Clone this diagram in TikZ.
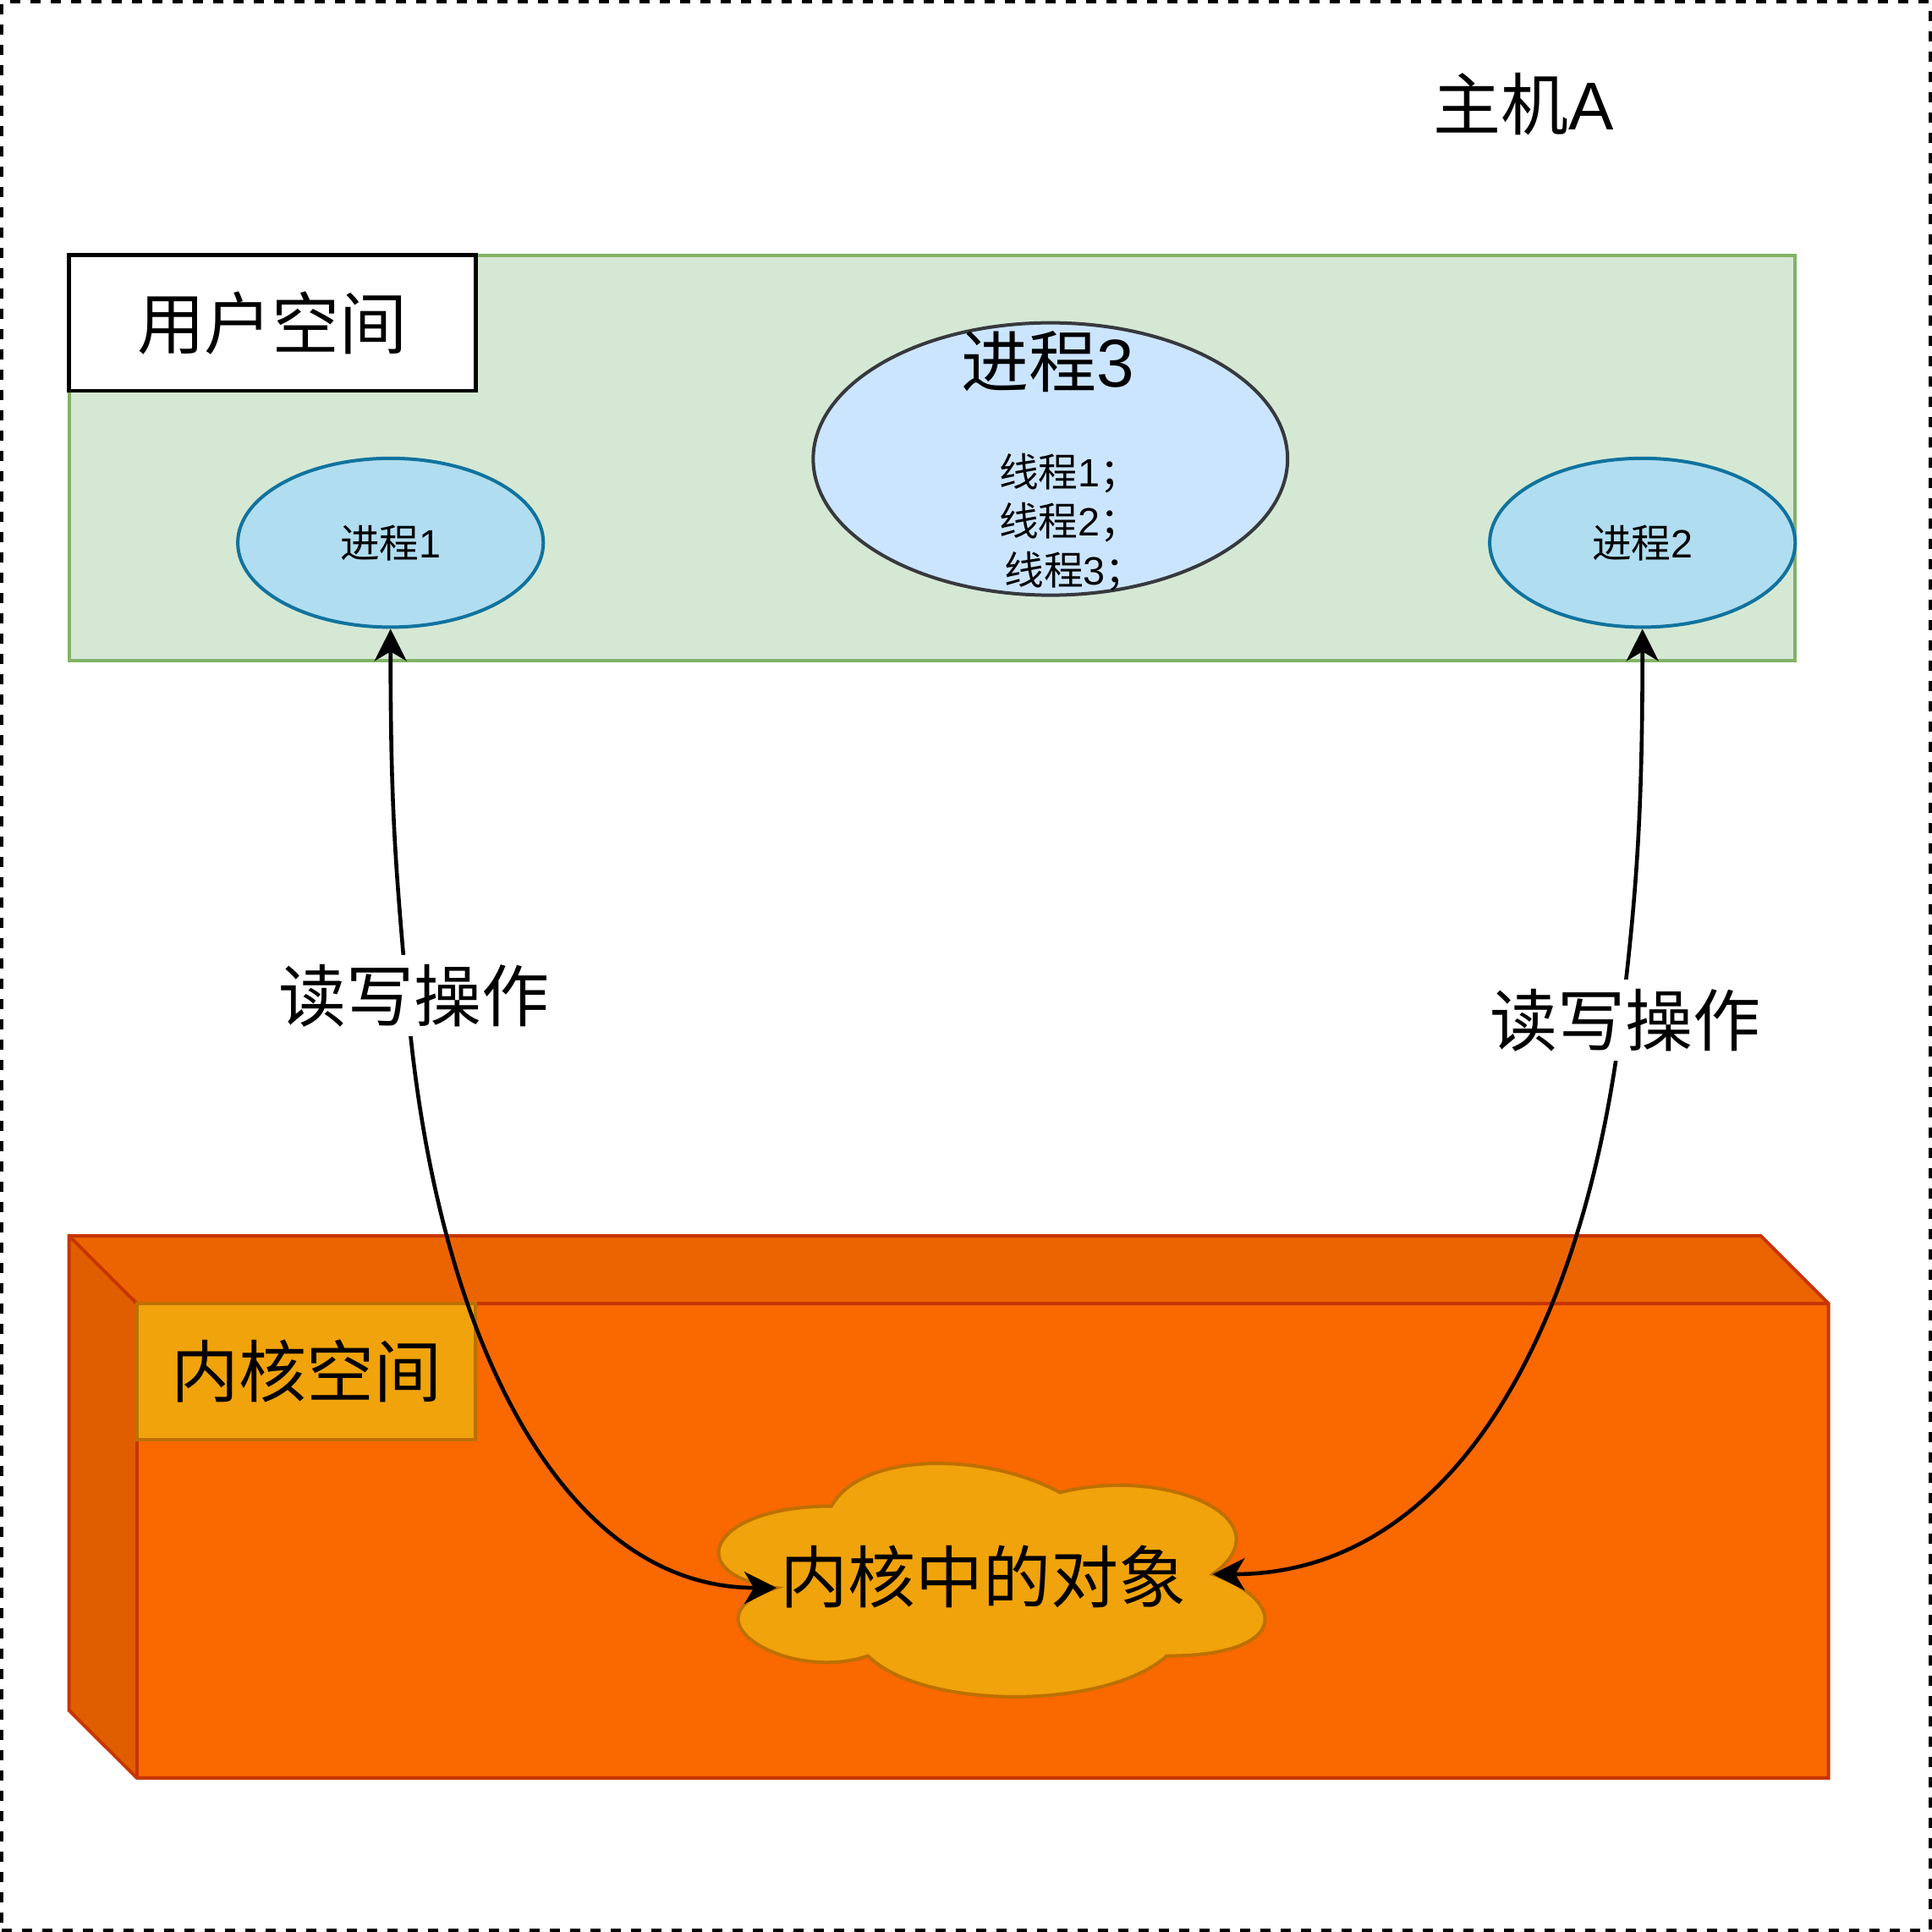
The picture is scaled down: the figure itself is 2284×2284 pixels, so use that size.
\documentclass[tikz,border=0pt]{standalone}
\usepackage{fontspec}
\setmainfont{Noto Sans CJK SC}
\newfontfamily\latf{Liberation Sans}
\usetikzlibrary{shapes.geometric,arrows.meta}
\newcommand{\fBig}{\fontsize{20pt}{24pt}\selectfont}
\newcommand{\fSmall}{\fontsize{11.67pt}{14.5pt}\selectfont}
\definecolor{ugreenF}{HTML}{D5E8D4}
\definecolor{ugreenD}{HTML}{82B366}
\definecolor{procF}{HTML}{B1DDF0}
\definecolor{procD}{HTML}{10739E}
\definecolor{bprocF}{HTML}{CCE5FF}
\definecolor{bprocD}{HTML}{36393D}
\definecolor{kfrontF}{HTML}{FA6800}
\definecolor{ktopF}{RGB}{236,100,0}
\definecolor{kleftF}{RGB}{224,94,0}
\definecolor{kedgeD}{HTML}{C73500}
\definecolor{kobjF}{HTML}{F0A30A}
\definecolor{kobjD}{HTML}{BD7000}
\begin{document}
\begin{tikzpicture}[x=0.25pt,y=-0.25pt,
  hostborder/.style={draw=black, line width=1pt, dash pattern=on 3pt off 3pt, inner sep=0pt},
  userarea/.style={draw=ugreenD, fill=ugreenF, line width=1pt, inner sep=0pt},
  titlebox/.style={draw=black, fill=white, line width=1.1pt, font=\fBig, inner sep=0pt},
  proc/.style={ellipse, draw=procD, fill=procF, line width=1pt, inner sep=0pt, font=\fSmall},
  bigproc/.style={ellipse, draw=bprocD, fill=bprocF, line width=1pt, inner sep=0pt},
  kedge/.style={draw=kedgeD, line width=1pt},
  klabel/.style={draw=kobjD, fill=kobjF, line width=1pt, font=\fBig, inner sep=0pt},
  cloudst/.style={draw=kobjD, fill=kobjF, line width=1pt},
  rwarrow/.style={line width=1.15pt, {Stealth[length=9.5pt,width=9.5pt,inset=2.8pt]}-{Stealth[length=9.5pt,width=9.5pt,inset=2.8pt]}},
  rwlabel/.style={fill=white, font=\fBig, inner xsep=1pt, inner ysep=2.8pt}
]
\useasboundingbox (0,0) rectangle (2284,2284);

% host frame
\node[hostborder, minimum width=569.8pt, minimum height=569.8pt] (host) at (1142,1142) {};
\node[font=\fBig] (hostlbl) at (1801,123) {主机{\latf A}};

% user space
\node[userarea, minimum width=510.2pt, minimum height=119.9pt] (user) at (1102,541.5) {};
\node[titlebox, minimum width=120.2pt, minimum height=40.05pt] (userlbl) at (322,381.6) {用户空间};

\node[proc, minimum width=90.3pt, minimum height=49.9pt] (p1) at (461.7,641.6) {进程{\latf 1}};
\node[proc, minimum width=90.3pt, minimum height=49.9pt] (p2) at (1941.7,641.6) {进程{\latf 2}};
\node[bigproc, minimum width=140.2pt, minimum height=80.5pt] (p3) at (1241.75,542.6) {};
\node[font=\fBig] (p3title) at (1238.5,428) {进程{\latf 3}};
\node[font=\fSmall, align=center, inner sep=0pt] (p3threads) at (1264,617.5) {线程{\latf 1}；\\线程{\latf 2}；\\\hspace*{0.28em}线程{\latf 3}；};

% kernel space box
\coordinate (kA) at (81.6,1461);
\coordinate (kB) at (2081.6,1461);
\coordinate (kC) at (2161.6,1541);
\coordinate (kD) at (2161.6,2101.8);
\coordinate (kE) at (161.7,2101.8);
\coordinate (kF) at (81.6,2021.8);
\coordinate (kG) at (161.7,1541);
\fill[ktopF] (kA) -- (kB) -- (kC) -- (kG) -- cycle;
\fill[kleftF] (kA) -- (kG) -- (kE) -- (kF) -- cycle;
\fill[kfrontF] (kG) rectangle (kD);
\draw[kedge] (kA) -- (kB) -- (kC) -- (kD) -- (kE) -- (kF) -- cycle;
\draw[kedge] (kA) -- (kG) -- (kC);
\draw[kedge] (kG) -- (kE);
\node[klabel, minimum width=100.15pt, minimum height=40.2pt] (klbl) at (362,1621.35) {内核空间};

% cloud
\filldraw[cloudst] (982.9,1780.5) .. controls (838.7,1780.5) and (802.6,1861) .. (918,1877.1)
  .. controls (802.6,1912.5) and (932.4,1989.8) .. (1026.1,1957.6)
  .. controls (1091,2022) and (1307.3,2022) .. (1379.4,1957.6)
  .. controls (1523.6,1957.6) and (1523.6,1893.2) .. (1433.5,1861)
  .. controls (1523.6,1796.6) and (1379.4,1732.2) .. (1253.2,1764.4)
  .. controls (1163.1,1716.1) and (1018.9,1716.1) .. (982.9,1780.5) -- cycle;
\coordinate (cL) at (918,1877.1);
\coordinate (cR) at (1433.5,1861);
\node[font=\fBig] (kobj) at (1162,1864) {内核中的对象};

% connectors
\coordinate (j1) at (481,1177);
\draw[rwarrow] (p1.south) .. controls (461.7,960) and (468,1027) .. (j1)
  .. controls (513,1577) and (663,1877.1) .. (cL);
\node[rwlabel] (rw1) at (489,1177) {读写操作};

\coordinate (j2) at (1917,1204);
\draw[rwarrow] (p2.south) .. controls (1941.7,960) and (1935,1054) .. (j2)
  .. controls (1871,1584) and (1712.5,1861) .. (cR);
\node[rwlabel] (rw2) at (1921,1206) {读写操作};
\end{tikzpicture}
\end{document}
